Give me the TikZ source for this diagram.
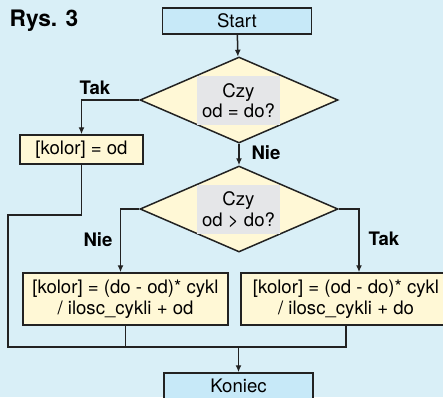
\documentclass[tikz,border=0pt]{standalone}
\usepackage{fontspec}
\setmainfont{TeX Gyre Heros}
\usetikzlibrary{shapes.geometric, arrows.meta, positioning}

\definecolor{tlo}{HTML}{D9EFF7}
\definecolor{niebieski}{HTML}{C7E9F8}
\definecolor{zolty}{HTML}{FFF8D6}
\definecolor{szary}{HTML}{E5E6E8}
\definecolor{linia}{HTML}{222222}

\tikzset{
  term/.style={draw=linia, line width=1.5pt, fill=niebieski, minimum width=149pt,
    minimum height=26pt, inner sep=0pt},
  blok/.style={draw=linia, line width=1.5pt, fill=zolty, align=center, inner sep=0pt},
  romb/.style={diamond, draw=linia, line width=1.5pt, fill=zolty, inner sep=0pt,
    minimum width=198pt, minimum height=86pt},
  pytanie/.style={fill=szary, align=center, minimum width=83pt, minimum height=49pt,
    inner sep=0pt},
  etykieta/.style={font=\fontsize{18.6}{20.5}\selectfont\bfseries},
  strzalka/.style={draw=linia, line width=1.5pt, -{Latex[length=7pt,width=6pt]}},
  linka/.style={draw=linia, line width=1.5pt}
}

\begin{document}
\begin{tikzpicture}[x=1pt, y=-1pt, font=\fontsize{18.6}{20.5}\selectfont]
    \path[use as bounding box] (0,0) rectangle (443,397);
    \clip (0,0) rectangle (443,397);
    \fill[tlo] (0,0) rectangle (443,397);

    \node[anchor=west, font=\fontsize{22.7}{24}\selectfont\bfseries] (rys) at (6,21) {Rys. 3};

    % bloki
    \node[term] (start) at (237,21) {Start};
    \node[romb] (q1) at (239,100) {};
    \node[pytanie] (q1txt) at (238.5,100.5) {Czy\\od = do?};
    \node[blok, minimum width=123pt, minimum height=29pt] (kolorod) at (81.5,149.5) {[kolor] = od};
    \node[romb] (q2) at (239,209) {};
    \node[pytanie] (q2txt) at (238.5,209.5) {Czy\\od > do?};
    \node[blok, minimum width=205pt, minimum height=52pt] (lewy) at (125.5,299)
      {[kolor] = (do - od)* cykl\\/ ilosc\_cykli + od};
    \node[blok, minimum width=210pt, minimum height=52pt] (prawy) at (346,299)
      {[kolor] = (od - do)* cykl\\/ ilosc\_cykli + do};
    \node[term] (koniec) at (238.5,386) {Koniec};

    \coordinate (obejscie) at (8,215);
    \coordinate (zbieg) at (238.5,347);

    % polaczenia
    \draw[strzalka] (start) -- (q1);
    \draw[strzalka] (q1.west) -| (kolorod.north);
    \draw[strzalka] (q1.south) -- (q2.north);
    \draw[strzalka] (q2.west) -| ([xshift=-5pt]lewy.north);
    \draw[strzalka] (q2.east) -| ([xshift=13pt]prawy.north);
    \draw[linka] (kolorod.south) |- (obejscie) |- (zbieg);
    \draw[linka] (lewy.south) |- (zbieg);
    \draw[linka] (prawy.south) |- (zbieg);
    \draw[strzalka] (zbieg) -- (koniec.north);

    % opisy galezi
    \node[etykieta] (tak1) at (95,88) {Tak};
    \node[etykieta] (nie1) at (266,153) {Nie};
    \node[etykieta] (nie2) at (98,240) {Nie};
    \node[etykieta] (tak2) at (384,239) {Tak};
\end{tikzpicture}
\end{document}
